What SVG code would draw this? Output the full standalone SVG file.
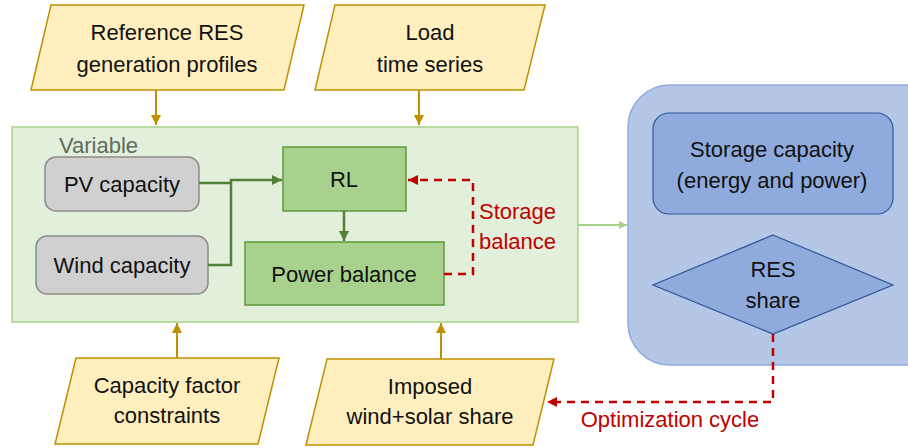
<svg xmlns="http://www.w3.org/2000/svg" width="908" height="448" viewBox="0 0 908 448">
  <defs>
    <style>
      text { font-family: "Liberation Sans", Arial, sans-serif; font-size: 22px; fill: #111; text-anchor: middle; }
      .io { fill: #FFEFBF; stroke: #BF9000; stroke-width: 1.5; }
      .var { fill: #D0D0D0; stroke: #8C8C8C; stroke-width: 1.5; }
      .proc { fill: #A9D18E; stroke: #5E9A3A; stroke-width: 1.5; }
      .opt { fill: #8FAADC; stroke: #2F5597; stroke-width: 1.2; }
      .gold { stroke: #BF9000; stroke-width: 2; fill: none; }
      .green { stroke: #538135; stroke-width: 2.5; fill: none; }
      .dash { stroke: #C00000; stroke-width: 2.5; fill: none; stroke-dasharray: 8 6; }
      .red { fill: #C00000; text-anchor: start; }
    </style>
    <marker id="ahGold" viewBox="0 0 10 10" refX="10" refY="5" markerWidth="5" markerHeight="5" orient="auto" markerUnits="strokeWidth">
      <path d="M0,0 L10,5 L0,10 z" fill="#BF9000"/>
    </marker>
    <marker id="ahGreen" viewBox="0 0 10 10" refX="10" refY="5" markerWidth="4" markerHeight="4" orient="auto" markerUnits="strokeWidth">
      <path d="M0,0 L10,5 L0,10 z" fill="#538135"/>
    </marker>
    <marker id="ahLight" viewBox="0 0 10 10" refX="10" refY="5" markerWidth="4" markerHeight="4" orient="auto" markerUnits="strokeWidth">
      <path d="M0,0 L10,5 L0,10 z" fill="#A9D18E"/>
    </marker>
    <marker id="ahRed" viewBox="0 0 10 10" refX="10" refY="5" markerWidth="4" markerHeight="4" orient="auto" markerUnits="strokeWidth">
      <path d="M0,0 L10,5 L0,10 z" fill="#C00000"/>
    </marker>
  </defs>

  <!-- simulation frame -->
  <g id="model-frame">
    <rect x="12" y="127" width="566" height="195" fill="#E2EFDA" stroke="#A9D18E" stroke-width="1.5"/>
    <text x="59" y="153" style="text-anchor:start; fill:#5F6B5F">Variable</text>
  </g>

  <!-- optimisation frame -->
  <g id="optimizer-frame">
    <rect x="628" y="85" width="320" height="280" rx="42" fill="#B4C7E7" stroke="#8FAADC" stroke-width="1.5"/>
  </g>

  <!-- inputs -->
  <g id="ref-profiles">
    <polygon class="io" points="51,5 304,5 284,90 31,90"/>
    <text x="167" y="40">Reference RES</text>
    <text x="167" y="72">generation profiles</text>
  </g>
  <g id="load-series">
    <polygon class="io" points="335,5 545,5 524,90 315,90"/>
    <text x="430" y="40">Load</text>
    <text x="430" y="72">time series</text>
  </g>
  <g id="cf-constraints">
    <polygon class="io" points="76,358 279,358 258,444 55,444"/>
    <text x="167" y="393">Capacity factor</text>
    <text x="167" y="423">constraints</text>
  </g>
  <g id="imposed-share">
    <polygon class="io" points="327,359 554,359 533,445 306,445"/>
    <text x="430" y="394">Imposed</text>
    <text x="430" y="424">wind+solar share</text>
  </g>

  <!-- variables -->
  <g id="pv-capacity">
    <rect class="var" x="45" y="157" width="154" height="54" rx="11"/>
    <text x="122" y="192">PV capacity</text>
  </g>
  <g id="wind-capacity">
    <rect class="var" x="36" y="236" width="172" height="58" rx="11"/>
    <text x="122" y="273">Wind capacity</text>
  </g>

  <!-- processes -->
  <g id="rl">
    <rect class="proc" x="283" y="147" width="123" height="64"/>
    <text x="344" y="187">RL</text>
  </g>
  <g id="power-balance">
    <rect class="proc" x="245" y="242" width="199" height="63"/>
    <text x="344" y="282">Power balance</text>
  </g>

  <!-- optimisation -->
  <g id="storage-capacity">
    <rect class="opt" x="653" y="113" width="240" height="101" rx="16"/>
    <text x="772" y="157">Storage capacity</text>
    <text x="772" y="188">(energy and power)</text>
  </g>
  <g id="res-share">
    <polygon class="opt" points="773,235 893,285 773,334 653,285"/>
    <text x="773" y="277">RES</text>
    <text x="773" y="308">share</text>
  </g>

  <!-- connectors -->
  <g id="connectors">
    <line class="gold" x1="156" y1="90" x2="156" y2="125" marker-end="url(#ahGold)"/>
    <line class="gold" x1="419" y1="90" x2="419" y2="125" marker-end="url(#ahGold)"/>
    <line class="gold" x1="177" y1="358" x2="177" y2="323" marker-end="url(#ahGold)"/>
    <line class="gold" x1="441" y1="359" x2="441" y2="323" marker-end="url(#ahGold)"/>

    <path class="green" d="M199,183 H231"/>
    <path class="green" d="M208,265 H231 V180 H282" marker-end="url(#ahGreen)"/>
    <line class="green" x1="344" y1="211" x2="344" y2="241" marker-end="url(#ahGreen)"/>

    <line x1="578" y1="225" x2="627" y2="225" stroke="#A9D18E" stroke-width="2" marker-end="url(#ahLight)"/>

    <path class="dash" d="M444,274 H473 V180 H408" marker-end="url(#ahRed)"/>
    <text class="red" x="479" y="219">Storage</text>
    <text class="red" x="479" y="249">balance</text>

    <path class="dash" d="M773,334 V402 H547" marker-end="url(#ahRed)"/>
    <text x="670" y="427" style="fill:#C00000">Optimization cycle</text>
  </g>
</svg>
